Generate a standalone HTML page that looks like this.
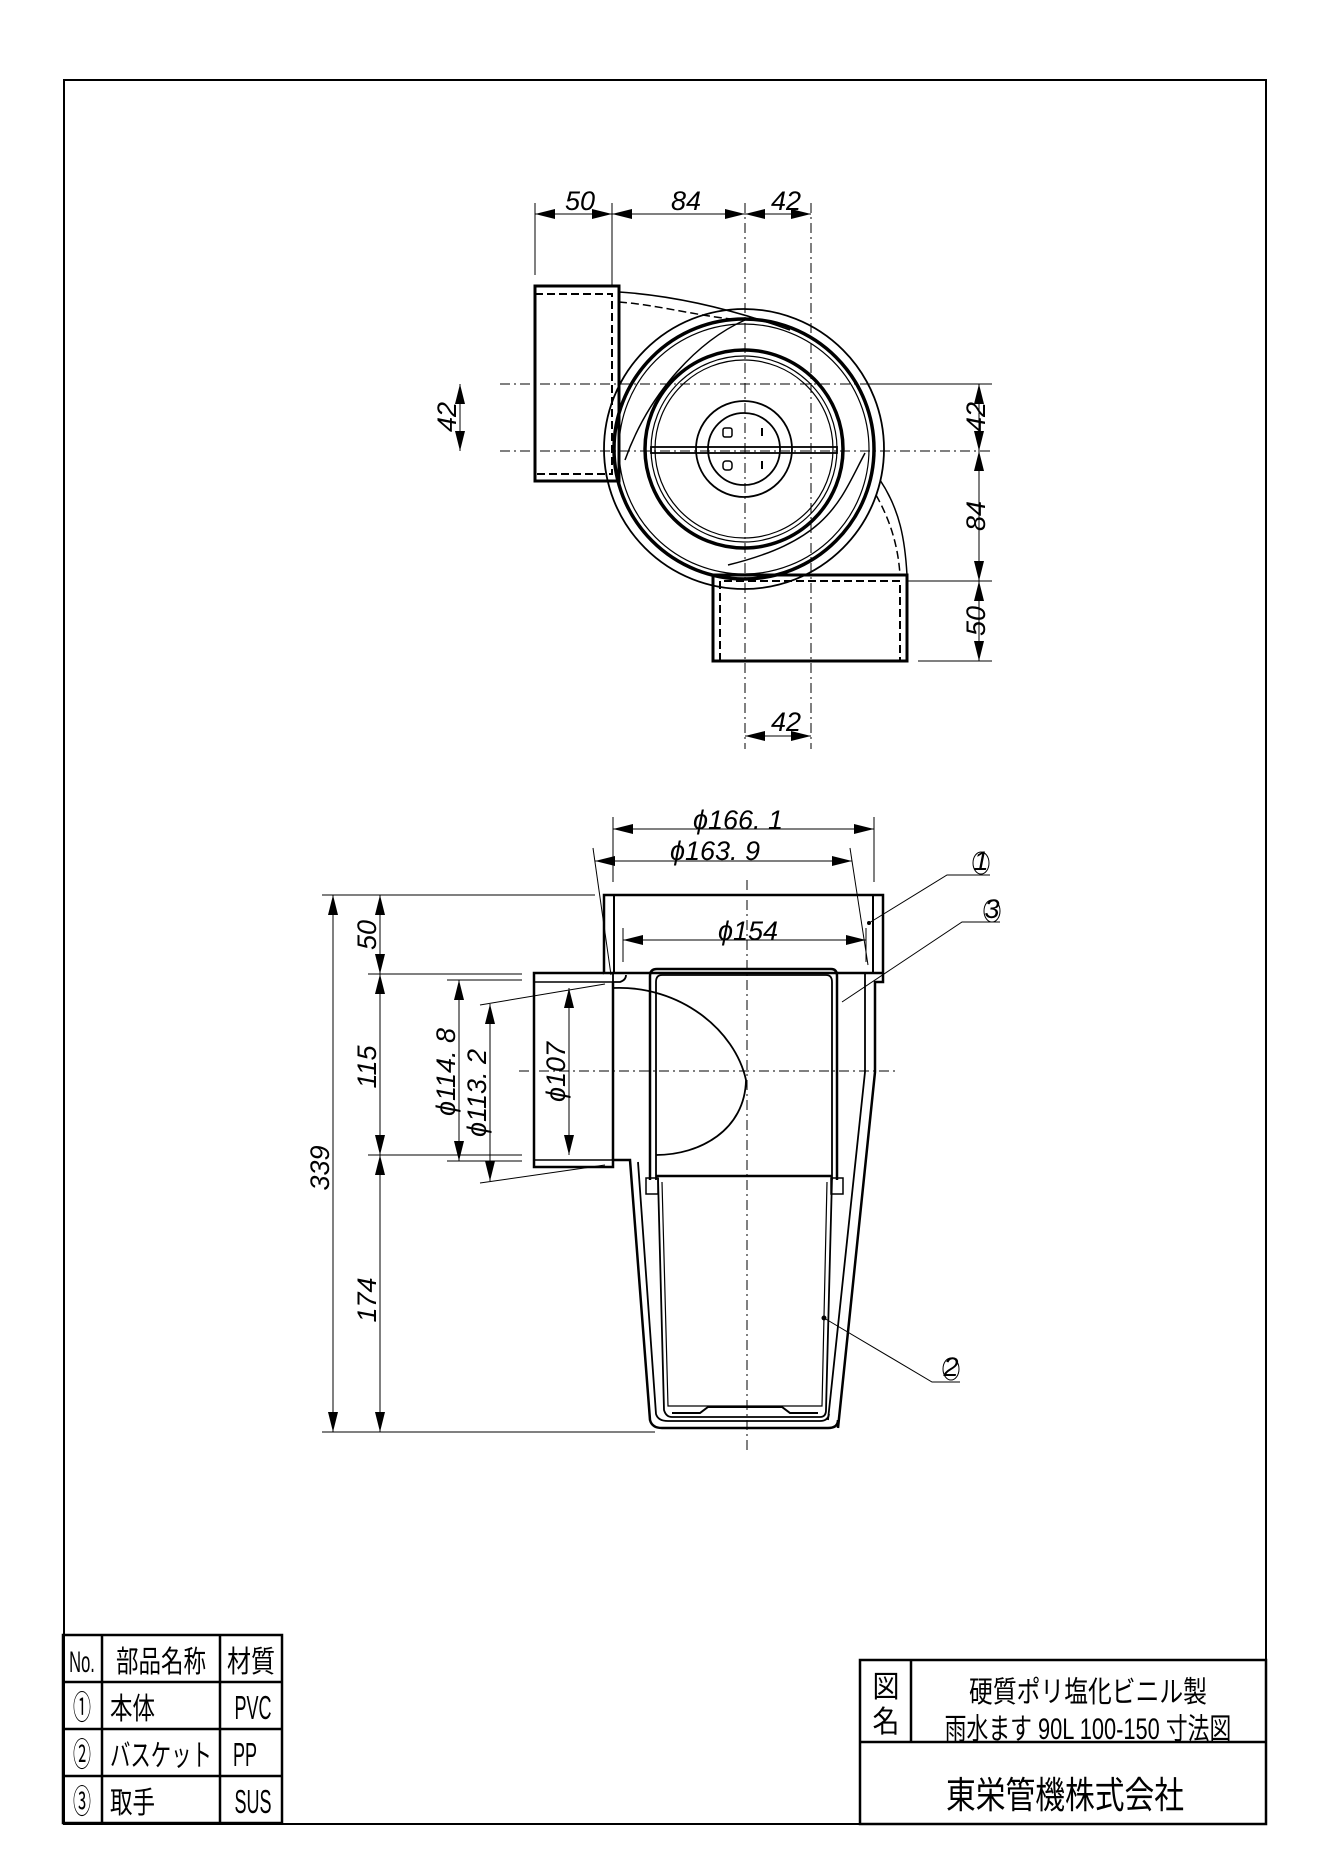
<!DOCTYPE html>
<html><head><meta charset="utf-8"><style>
html,body{margin:0;padding:0;background:#fff;}
svg{display:block}
.d{font-family:"Liberation Sans",sans-serif;font-style:italic;font-size:27px;fill:#000}
.j{font-family:"Liberation Sans","Noto Sans CJK JP",sans-serif;fill:#000}
</style></head><body>
<svg width="1322" height="1870" viewBox="0 0 1322 1870" xmlns="http://www.w3.org/2000/svg">
<defs>
<marker id="a" viewBox="0 0 20 10" refX="20" refY="5" markerWidth="20" markerHeight="10" markerUnits="userSpaceOnUse" orient="auto-start-reverse"><path d="M0,0 L20,5 L0,10 z" fill="#000"/></marker>
</defs>
<rect x="64" y="80" width="1202" height="1744" fill="none" stroke="#000" stroke-width="2"/>

<g fill="none" stroke="#000">
<line x1="745" y1="203" x2="745" y2="749" stroke-width="1" stroke-dasharray="10,4,2,4"/>
<line x1="811" y1="203" x2="811" y2="749" stroke-width="1" stroke-dasharray="10,4,2,4"/>
<line x1="500" y1="384" x2="992" y2="384" stroke-width="1" stroke-dasharray="10,4,2,4"/>
<line x1="500" y1="451" x2="992" y2="451" stroke-width="1" stroke-dasharray="10,4,2,4"/>
<line x1="535" y1="203" x2="535" y2="275" stroke-width="1"/>
<line x1="612" y1="203" x2="612" y2="286" stroke-width="1"/>
<rect x="535" y="286" width="84" height="195" stroke-width="3"/>
<path d="M535,294 H612 V474 H535" stroke-width="2" stroke-dasharray="8,4"/>
<path d="M619,292 C680,296 740,312 790,330" stroke-width="1.5"/>
<path d="M619,302 C660,305 705,318 745,320" stroke-width="1.5" stroke-dasharray="8,4"/>
<path d="M745,320 C700,340 650,390 625,460" stroke-width="1.5"/>
<circle cx="744" cy="449" r="140" stroke-width="1.8"/>
<circle cx="744" cy="449" r="130" stroke-width="3.5"/>
<circle cx="744" cy="449" r="125" stroke-width="1.2"/>
<circle cx="744" cy="449" r="99" stroke-width="3.5"/>
<circle cx="744" cy="449" r="93" stroke-width="1.2"/>
<circle cx="744" cy="449" r="89" stroke-width="1.2"/>
<circle cx="744" cy="449" r="48" stroke-width="1.8"/>
<circle cx="744" cy="449" r="36" stroke-width="1.8"/>
<rect x="723" y="428" width="9" height="9" rx="2" stroke-width="1.5"/>
<rect x="723" y="461" width="9" height="9" rx="3" stroke-width="1.5"/>
<line x1="762" y1="428" x2="762" y2="436" stroke-width="2"/>
<line x1="762" y1="461" x2="762" y2="469" stroke-width="2"/>
<rect x="651" y="447" width="186" height="6" stroke-width="1.8"/>
<path d="M865,453 C840,500 830,540 728,565" stroke-width="1.5"/>
<path d="M880,480 C900,510 905,540 907,575" stroke-width="1.5"/>
<path d="M876,495 C890,520 898,545 900,575" stroke-width="1.5" stroke-dasharray="8,4"/>
<rect x="713" y="575" width="194" height="86" stroke-width="3"/>
<path d="M720,661 V581 H900 V661" stroke-width="2" stroke-dasharray="8,4"/>
<line x1="535" y1="214" x2="612" y2="214" stroke-width="1" marker-start="url(#a)" marker-end="url(#a)"/>
<line x1="612" y1="214" x2="745" y2="214" stroke-width="1" marker-start="url(#a)" marker-end="url(#a)"/>
<line x1="745" y1="214" x2="811" y2="214" stroke-width="1" marker-start="url(#a)" marker-end="url(#a)"/>
<line x1="860" y1="384" x2="992" y2="384" stroke-width="1"/>
<line x1="907" y1="581" x2="992" y2="581" stroke-width="1"/>
<line x1="918" y1="661" x2="992" y2="661" stroke-width="1"/>
<line x1="979" y1="384" x2="979" y2="451" stroke-width="1" marker-start="url(#a)" marker-end="url(#a)"/>
<line x1="979" y1="451" x2="979" y2="581" stroke-width="1" marker-start="url(#a)" marker-end="url(#a)"/>
<line x1="979" y1="581" x2="979" y2="661" stroke-width="1" marker-start="url(#a)" marker-end="url(#a)"/>
<line x1="460" y1="384" x2="460" y2="451" stroke-width="1" marker-start="url(#a)" marker-end="url(#a)"/>
<line x1="745" y1="736" x2="811" y2="736" stroke-width="1" marker-start="url(#a)" marker-end="url(#a)"/>
</g>
<text class="d" x="580" y="210" text-anchor="middle">50</text>
<text class="d" x="686" y="210" text-anchor="middle">84</text>
<text class="d" x="786" y="210" text-anchor="middle">42</text>
<text class="d" x="786" y="731" text-anchor="middle">42</text>
<text class="d" transform="translate(985,417) rotate(-90)" text-anchor="middle">42</text>
<text class="d" transform="translate(985,516) rotate(-90)" text-anchor="middle">84</text>
<text class="d" transform="translate(985,621) rotate(-90)" text-anchor="middle">50</text>
<text class="d" transform="translate(456,417) rotate(-90)" text-anchor="middle">42</text>

<g fill="none" stroke="#000">
<line x1="747" y1="880" x2="747" y2="1450" stroke-width="1" stroke-dasharray="10,4,2,4"/>
<line x1="519" y1="1071" x2="895" y2="1071" stroke-width="1" stroke-dasharray="10,4,2,4"/>
<rect x="604" y="895" width="279" height="78" stroke-width="2.5"/>
<line x1="614" y1="895" x2="614" y2="973" stroke-width="2"/>
<line x1="873" y1="895" x2="873" y2="973" stroke-width="2"/>
<path d="M883,973 V982 H875 V1072 L838,1428" stroke-width="2.5"/>
<path d="M865,973 V1072 L828,1420" stroke-width="1.8"/>
<path d="M604,973 H534 V1167 H613 V1160 H630 L650,1420 Q652,1428 662,1428 H828 Q838,1428 838,1420" stroke-width="2.5"/>
<path d="M613,974 V982 H620 Q626,980 626,975" stroke-width="1.8"/>
<line x1="534" y1="982" x2="613" y2="982" stroke-width="1.5"/>
<line x1="534" y1="1160" x2="613" y2="1160" stroke-width="1.5"/>
<line x1="613" y1="982" x2="613" y2="1160" stroke-width="2.5"/>
<path d="M638,1162 L656,1414 Q658,1421 668,1421 H820 Q828,1421 829,1414" stroke-width="1.8"/>
<path d="M650,1180 V976 Q650,969 657,969 H831 Q837,969 837,976 V1180" stroke-width="2.5"/>
<path d="M656,1180 V982 Q656,975 662,975 H826 Q832,975 832,982 V1180" stroke-width="1.8"/>
<line x1="656" y1="1176" x2="832" y2="1176" stroke-width="2.5"/>
<path d="M613,988 C680,985 735,1030 746,1080 C745,1130 700,1155 656,1155" stroke-width="1.8"/>
<path d="M658,1178 L664,1410 Q666,1417 672,1417 H820 Q826,1417 826,1410 L832,1178" stroke-width="1.8"/>
<path d="M662,1182 L668,1406 H822 L827,1182" stroke-width="1.2"/>
<path d="M672,1413 H700 L708,1407 H782 L790,1413 H818" stroke-width="2"/>
<rect x="646" y="1178" width="12" height="16" stroke-width="1.5"/>
<rect x="831" y="1178" width="12" height="16" stroke-width="1.5"/>
<line x1="613" y1="817" x2="613" y2="882" stroke-width="1"/>
<line x1="874" y1="817" x2="874" y2="882" stroke-width="1"/>
<line x1="613" y1="829" x2="874" y2="829" stroke-width="1" marker-start="url(#a)" marker-end="url(#a)"/>
<line x1="593" y1="848" x2="611" y2="975" stroke-width="1"/>
<line x1="850" y1="848" x2="868" y2="965" stroke-width="1"/>
<line x1="595" y1="861" x2="852" y2="861" stroke-width="1" marker-start="url(#a)" marker-end="url(#a)"/>
<line x1="623" y1="928" x2="623" y2="962" stroke-width="1"/>
<line x1="866" y1="928" x2="866" y2="962" stroke-width="1"/>
<line x1="623" y1="940" x2="866" y2="940" stroke-width="1" marker-start="url(#a)" marker-end="url(#a)"/>
<line x1="322" y1="895" x2="595" y2="895" stroke-width="1"/>
<line x1="368" y1="974" x2="522" y2="974" stroke-width="1"/>
<line x1="368" y1="1155" x2="522" y2="1155" stroke-width="1"/>
<line x1="322" y1="1432" x2="655" y2="1432" stroke-width="1"/>
<line x1="447" y1="980" x2="522" y2="980" stroke-width="1"/>
<line x1="447" y1="1161" x2="522" y2="1161" stroke-width="1"/>
<line x1="480" y1="1005" x2="605" y2="984" stroke-width="1"/>
<line x1="480" y1="1183" x2="605" y2="1165" stroke-width="1"/>
<line x1="333" y1="895" x2="333" y2="1432" stroke-width="1" marker-start="url(#a)" marker-end="url(#a)"/>
<line x1="380" y1="895" x2="380" y2="974" stroke-width="1" marker-start="url(#a)" marker-end="url(#a)"/>
<line x1="380" y1="974" x2="380" y2="1155" stroke-width="1" marker-start="url(#a)" marker-end="url(#a)"/>
<line x1="380" y1="1155" x2="380" y2="1432" stroke-width="1" marker-start="url(#a)" marker-end="url(#a)"/>
<line x1="459" y1="980" x2="459" y2="1161" stroke-width="1" marker-start="url(#a)" marker-end="url(#a)"/>
<line x1="490" y1="1004" x2="490" y2="1181" stroke-width="1" marker-start="url(#a)" marker-end="url(#a)"/>
<line x1="569" y1="988" x2="569" y2="1155" stroke-width="1" marker-start="url(#a)" marker-end="url(#a)"/>
<circle cx="869" cy="923" r="1.5" fill="#000"/>
<path d="M869,923 L947,875 H990" stroke-width="1"/>
<path d="M842,1002 L962,922 H1000" stroke-width="1"/>
<circle cx="824" cy="1318" r="2" fill="#000"/>
<path d="M824,1318 L932,1382 H960" stroke-width="1"/>
<ellipse cx="981" cy="863" rx="8" ry="11" stroke-width="1"/>
<ellipse cx="992" cy="911" rx="8" ry="11" stroke-width="1"/>
<ellipse cx="951" cy="1369" rx="8" ry="11" stroke-width="1"/>
</g>
<text class="d" x="738" y="829" text-anchor="middle">ϕ166. 1</text>
<text class="d" x="715" y="860" text-anchor="middle">ϕ163. 9</text>
<text class="d" x="748" y="940" text-anchor="middle">ϕ154</text>
<text class="d" transform="translate(376,935) rotate(-90)" text-anchor="middle">50</text>
<text class="d" transform="translate(376,1067) rotate(-90)" text-anchor="middle">115</text>
<text class="d" transform="translate(376,1300) rotate(-90)" text-anchor="middle">174</text>
<text class="d" transform="translate(329,1168) rotate(-90)" text-anchor="middle">339</text>
<text class="d" transform="translate(455,1072) rotate(-90)" text-anchor="middle">ϕ114. 8</text>
<text class="d" transform="translate(486,1093) rotate(-90)" text-anchor="middle">ϕ113. 2</text>
<text class="d" transform="translate(565,1072) rotate(-90)" text-anchor="middle">ϕ107</text>
<text class="d" x="981" y="870" text-anchor="middle" font-size="18">1</text>
<text class="d" x="992" y="918" text-anchor="middle" font-size="18">3</text>
<text class="d" x="951" y="1376" text-anchor="middle" font-size="18">2</text>

<g fill="none" stroke="#000" stroke-width="2.5">
<rect x="63" y="1635" width="219" height="188"/>
<line x1="102" y1="1635" x2="102" y2="1823"/>
<line x1="220" y1="1635" x2="220" y2="1823"/>
<line x1="63" y1="1682" x2="282" y2="1682"/>
<line x1="63" y1="1729" x2="282" y2="1729"/>
<line x1="63" y1="1776" x2="282" y2="1776"/>
<rect x="860" y="1660" width="406" height="164"/>
<line x1="911" y1="1660" x2="911" y2="1742"/>
<line x1="860" y1="1742" x2="1266" y2="1742"/>
</g>
<g class="j" font-size="30">
<text transform="translate(82,1672) scale(0.55,1)" text-anchor="middle">No.</text>
<text transform="translate(161,1672) scale(0.75,1)" text-anchor="middle">部品名称</text>
<text transform="translate(251,1672) scale(0.8,1)" text-anchor="middle">材質</text>
<text transform="translate(82,1719) scale(0.6,1.1)" text-anchor="middle">①</text>
<text transform="translate(82,1766) scale(0.6,1.1)" text-anchor="middle">②</text>
<text transform="translate(82,1813) scale(0.6,1.1)" text-anchor="middle">③</text>
<text transform="translate(110,1719) scale(0.75,1)">本体</text>
<text transform="translate(110,1766) scale(0.68,1)">バスケット</text>
<text transform="translate(110,1813) scale(0.75,1)">取手</text>
<text transform="translate(253,1719) scale(0.6,1.1)" text-anchor="middle">PVC</text>
<text transform="translate(233,1766) scale(0.6,1.1)">PP</text>
<text transform="translate(253,1813) scale(0.6,1.1)" text-anchor="middle">SUS</text>
<text transform="translate(886,1697) scale(0.9,1)" text-anchor="middle" font-size="30">図</text>
<text transform="translate(886,1732) scale(0.9,1)" text-anchor="middle" font-size="30">名</text>
<text transform="translate(1088,1702) scale(0.85,1.05)" text-anchor="middle" font-size="28">硬質ポリ塩化ビニル製</text>
<text transform="translate(1088,1739) scale(0.78,1.05)" text-anchor="middle" font-size="28">雨水ます 90L 100-150 寸法図</text>
<text transform="translate(1065,1808) scale(0.85,1.05)" text-anchor="middle" font-size="35">東栄管機株式会社</text>
</g>
</svg>
</body></html>
